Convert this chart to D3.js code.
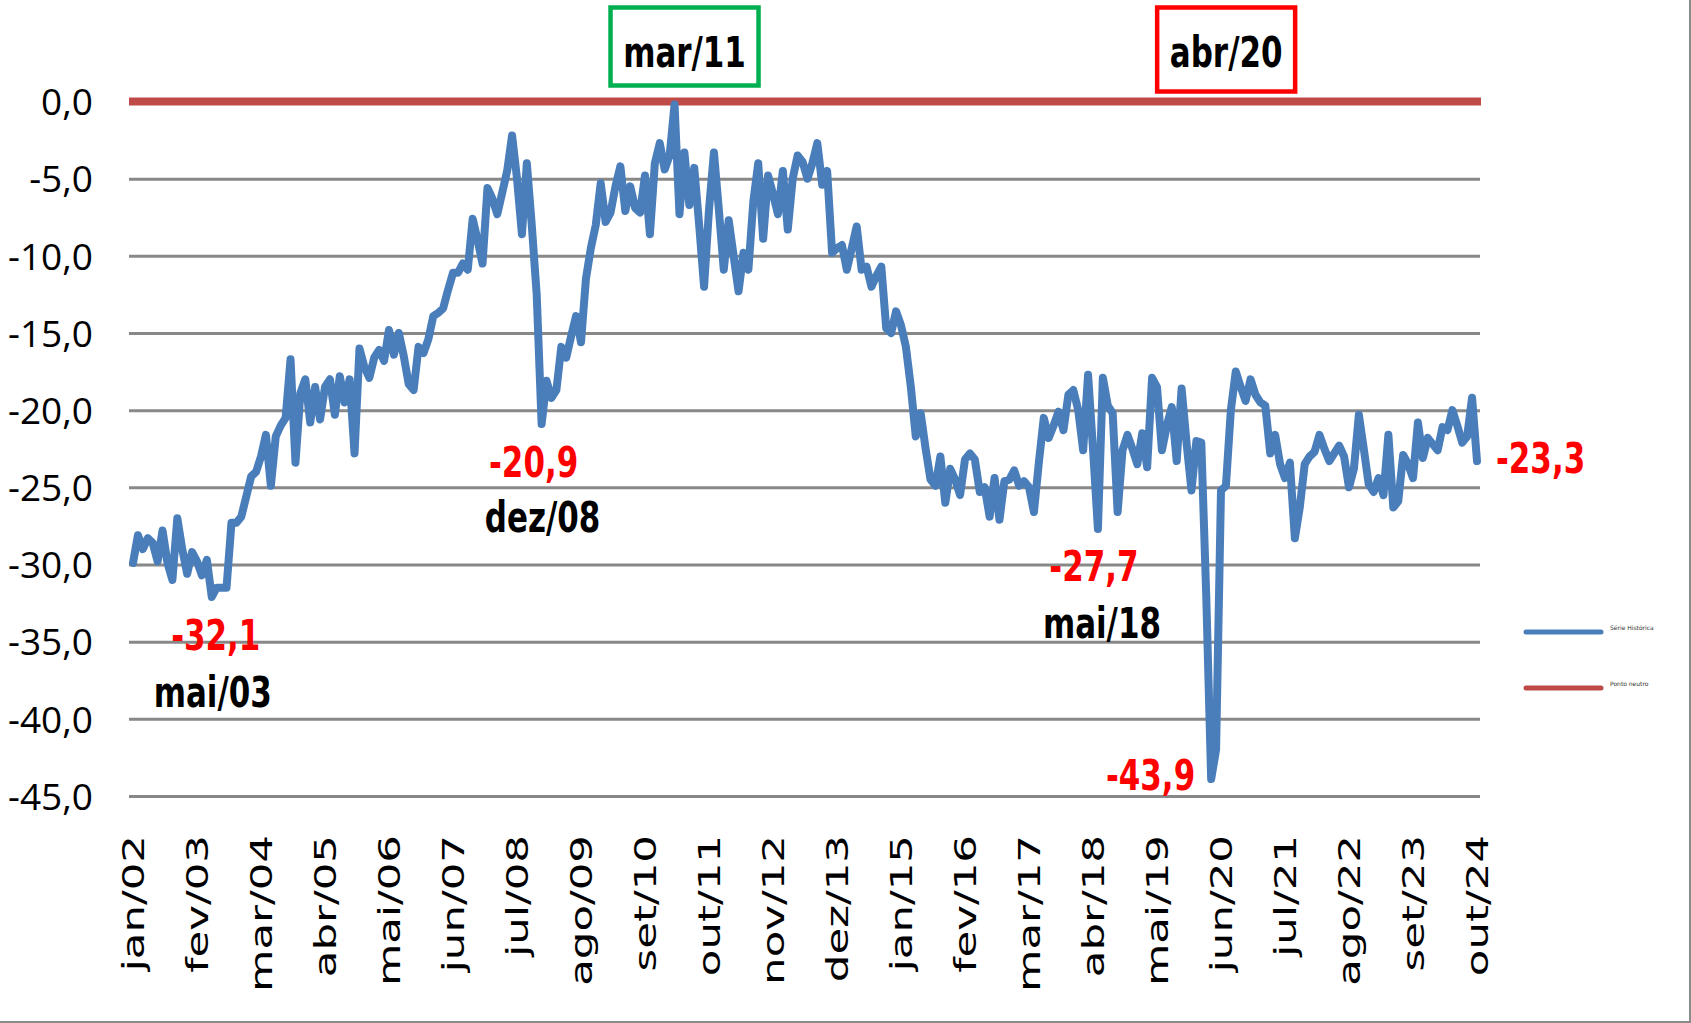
<!DOCTYPE html>
<meta charset="utf-8">
<style>
  body { margin: 0; background: #fff; }
  .ylab { font-family: "Open Sans", sans-serif; font-size: 37px; fill: #000; }
  .xlab { font-family: "DejaVu Sans", sans-serif; font-size: 30px; fill: #000; }
  .note { font-family: "DejaVu Sans Condensed", "DejaVu Sans", sans-serif; font-weight: bold; font-size: 43px; }
  .leg { font-family: "DejaVu Sans", sans-serif; font-size: 6px; fill: #333; }
</style>
<body>
<script src="https://cdn.jsdelivr.net/npm/d3@7"></script>
<script>

  // monthly series, jan/02 .. out/24 (274 months)
  var serie = [
    -29.9, -28.1, -29.0, -28.3, -28.6, -29.8, -27.8, -29.9, -31.0, -27.0, -29.0, -30.6,
    -29.2, -29.8, -30.7, -29.7, -32.1, -31.5, -31.5, -31.5, -27.3, -27.3, -26.9, -25.6,
    -24.3, -24.0, -23.0, -21.6, -24.9, -21.7, -21.0, -20.5, -16.7, -23.4, -18.9, -18.0,
    -20.8, -18.5, -20.6, -18.5, -18.0, -20.3, -17.8, -19.5, -18.0, -22.8, -16.0, -17.2,
    -17.9, -16.6, -16.1, -16.8, -14.8, -16.4, -15.0, -16.5, -18.3, -18.7, -15.9, -16.3,
    -15.4, -13.9, -13.7, -13.4, -12.2, -11.1, -11.1, -10.5, -10.9, -7.6, -9.0, -10.5,
    -5.6, -6.3, -7.3, -5.9, -4.5, -2.2, -5.0, -8.6, -4.0, -8.0, -12.5, -20.9,
    -18.1, -19.2, -18.7, -15.9, -16.6, -15.2, -13.9, -15.6, -11.5, -9.5, -8.0, -5.3,
    -7.8, -7.2, -5.5, -4.2, -7.1, -5.5, -6.9, -7.2, -4.8, -8.6, -4.0, -2.7,
    -4.4, -3.5, -0.2, -7.3, -3.3, -6.7, -4.3, -8.0, -12.0, -7.0, -3.3, -7.0,
    -10.9, -7.7, -10.0, -12.3, -9.8, -10.9, -6.5, -4.0, -8.9, -4.8, -6.0, -7.3,
    -4.5, -8.3, -5.0, -3.5, -3.9, -5.0, -4.0, -2.7, -5.4, -4.5, -9.8, -9.5,
    -9.3, -10.9, -9.5, -8.1, -10.9, -10.7, -12.0, -11.3, -10.7, -14.7, -15.0, -13.6,
    -14.5, -15.9, -18.5, -21.7, -20.2, -22.5, -24.5, -24.9, -23.0, -26.0, -23.8, -24.5,
    -25.5, -23.2, -22.8, -23.2, -25.3, -25.0, -26.9, -24.4, -27.1, -24.6, -24.5, -23.9,
    -24.9, -24.6, -25.0, -26.6, -23.4, -20.5, -21.8, -21.0, -20.1, -21.3, -19.0, -18.7,
    -20.0, -22.6, -17.7, -22.5, -27.7, -17.9, -19.7, -20.2, -26.6, -22.6, -21.6, -22.5,
    -23.5, -21.5, -23.7, -17.9, -18.5, -22.6, -21.0, -19.8, -23.3, -18.6, -22.1, -25.2,
    -22.0, -22.1, -32.0, -43.9, -42.0, -25.2, -24.9, -20.0, -17.5, -18.5, -19.4, -18.0,
    -19.0, -19.5, -19.7, -22.8, -21.6, -23.5, -24.4, -23.4, -28.3, -26.3, -23.5, -23.0,
    -22.7, -21.6, -22.5, -23.3, -22.8, -22.3, -23.0, -25.0, -23.8, -20.3, -22.5, -24.8,
    -25.3, -24.4, -25.5, -21.6, -26.3, -25.9, -22.9, -23.5, -24.4, -20.8, -23.1, -21.8,
    -22.2, -22.6, -21.1, -21.3, -20.0, -21.0, -22.1, -21.7, -19.2, -23.3
  ];

  // neutral line (0) for every month
  var neutro = serie.map(function () { return 0; });

  // x tick labels, one every 13 months
  var tickLabels = ["jan/02", "fev/03", "mar/04", "abr/05", "mai/06", "jun/07", "jul/08", "ago/09",
    "set/10", "out/11", "nov/12", "dez/13", "jan/15", "fev/16", "mar/17", "abr/18", "mai/19",
    "jun/20", "jul/21", "ago/22", "set/23", "out/24"];
  var yTicks = [0, -5, -10, -15, -20, -25, -30, -35, -40, -45];

  // highlighted points: month index, value text, date text
  var notes = [
    { i: 16, val: "-32,1", date: "mai/03", dx: 4, dy: 53, ddx: 1, ddy: 110, anchor: "middle" },
    { i: 83, val: "-20,9", date: "dez/08", dx: -8, dy: 53, ddx: 1, ddy: 108, anchor: "middle" },
    { i: 196, val: "-27,7", date: "mai/18", dx: -4, dy: 52, ddx: 4, ddy: 109, anchor: "middle" },
    { i: 219, val: "-43,9", date: null, dx: -16, dy: 11, anchor: "end" },
    { i: 273, val: "-23,3", date: null, dx: 19, dy: 12, anchor: "start" }
  ];
  // boxes on top: month index, text, colour
  var boxes = [
    { i: 110, txt: "mar/11", color: "#00b050", w: 148, h: 83 },
    { i: 219, txt: "abr/20", color: "#ff0000", w: 138, h: 89 }
  ];

  var W = 1691, H = 1023;
  var squeeze = 0.8; // narrow bold look for the notes

  var x = d3.scaleLinear().domain([0, serie.length - 1]).range([133, 1477]);
  var y = d3.scaleLinear().domain([-45, 0]).range([796, 101.5]);

  var svg = d3.select("body").append("svg")
    .attr("width", W)
    .attr("height", H);

  svg.append("rect").attr("width", W).attr("height", H).attr("fill", "white");

  // border right / bottom
  svg.append("line").attr("x1", W - 1).attr("x2", W - 1).attr("y1", 0).attr("y2", H)
    .attr("stroke", "#8c8c8c").attr("stroke-width", 2);
  svg.append("line").attr("x1", 0).attr("x2", W).attr("y1", H - 1).attr("y2", H - 1)
    .attr("stroke", "#8c8c8c").attr("stroke-width", 2);

  // y axis with gridlines
  var gx0 = 129, gx1 = 1480;
  var yAxis = svg.append("g")
    .attr("transform", "translate(" + gx0 + ",0)")
    .call(d3.axisLeft(y)
      .tickValues(yTicks)
      .tickSize(-(gx1 - gx0))
      .tickPadding(36)
      .tickFormat(function (d) { return d3.format(".1f")(d).replace(".", ",").replace("−", "-"); }));
  yAxis.select(".domain").remove();
  yAxis.selectAll("line").attr("stroke", "#888888").attr("stroke-width", 3);
  yAxis.selectAll("text").attr("class", "ylab").attr("font-size", null).attr("font-family", null)
    .attr("dy", "0.36em");

  // x tick labels (rotated)
  var tickIdx = tickLabels.map(function (d, k) { return k * 13; });
  svg.selectAll(".xlab")
    .data(tickLabels)
    .enter().append("text")
    .attr("class", "xlab")
    .attr("text-anchor", "end")
    .attr("dy", "0.36em")
    .attr("transform", function (d, k) {
      return "translate(" + x(tickIdx[k]) + ",835) rotate(-90) scale(1.45,1)";
    })
    .text(function (d) { return d; });

  var line = d3.line()
    .x(function (d, k) { return x(k); })
    .y(function (d) { return y(d); });

  // neutral line
  svg.append("path")
    .datum(neutro)
    .attr("d", line)
    .attr("fill", "none")
    .attr("stroke", "#be4b48")
    .attr("stroke-width", 8)
    .attr("stroke-linecap", "square");

  // historical series
  svg.append("path")
    .datum(serie)
    .attr("d", line)
    .attr("fill", "none")
    .attr("stroke", "#4a7ebb")
    .attr("stroke-width", 8)
    .attr("stroke-linejoin", "round")
    .attr("stroke-linecap", "round");

  function note(tx, ty, txt, color, anchor) {
    svg.append("text")
      .attr("class", "note")
      .attr("fill", color)
      .attr("text-anchor", anchor)
      .attr("transform", "translate(" + tx + "," + ty + ") scale(" + squeeze + ",1)")
      .text(txt);
  }

  // annotations
  notes.forEach(function (n) {
    var px = x(n.i), py = y(serie[n.i]);
    note(px + n.dx, py + n.dy, n.val, "#ff0000", n.anchor);
    if (n.date) note(px + n.ddx, py + n.ddy, n.date, "#000", "middle");
  });

  // boxes at the top
  boxes.forEach(function (b) {
    var cx = x(b.i) + (b.i === 110 ? 10 : 15);
    svg.append("rect")
      .attr("x", cx - b.w / 2)
      .attr("y", 7.5)
      .attr("width", b.w)
      .attr("height", b.h - 5)
      .attr("fill", "white")
      .attr("stroke", b.color)
      .attr("stroke-width", 4.5);
    note(cx, 67, b.txt, "#000", "middle");
  });

  // legend
  var legend = [
    { name: "Série Histórica", color: "#4a7ebb", y: 632 },
    { name: "Ponto neutro", color: "#be4b48", y: 688 }
  ];
  legend.forEach(function (l) {
    svg.append("line")
      .attr("x1", 1526).attr("x2", 1601)
      .attr("y1", l.y).attr("y2", l.y)
      .attr("stroke", l.color)
      .attr("stroke-width", 5)
      .attr("stroke-linecap", "round");
    svg.append("text")
      .attr("class", "leg")
      .attr("x", 1610)
      .attr("y", l.y - 2)
      .text(l.name);
  });

</script>
</body>
